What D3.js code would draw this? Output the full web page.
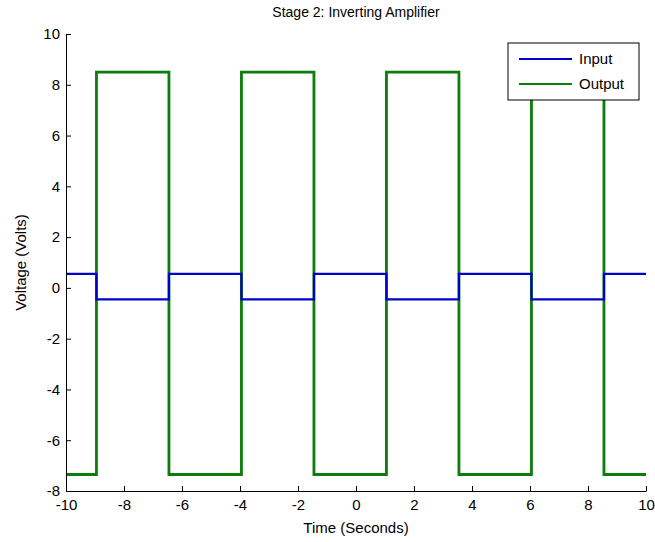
<!DOCTYPE html>
<html>
<head>
<meta charset="utf-8">
<script src="https://cdn.jsdelivr.net/npm/d3@7"></script>
<style>
  body { margin: 0; background: #fff; }
  text { font-family: "Liberation Sans", Arial, sans-serif; fill: #000; }
</style>
</head>
<body>
<svg id="viz" width="655" height="542"></svg>
<script>
// Stage 2 step plot

var svg = d3.select("#viz");
var width = +svg.attr("width");
var height = +svg.attr("height");

// switching instants (s)
var edgeTimes = [-10, -8.95, -6.45, -3.95, -1.45, 1.05, 3.55, 6.05, 8.55, 10];
var inputLevels = [0.55, -0.45, 0.55, -0.45, 0.55, -0.45, 0.55, -0.45, 0.55];
var outputLevels = [-7.35, 8.5, -7.35, 8.5, -7.35, 8.5, -7.35, 8.5, -7.35];
var xTicks = [-10, -8, -6, -4, -2, 0, 2, 4, 6, 8, 10];
var yTicks = [-8, -6, -4, -2, 0, 2, 4, 6, 8, 10];
var seriesNames = ["Input", "Output"];

var margin = { left: 66, right: 9, top: 34, bottom: 51 };

var x = d3.scaleLinear().domain([-10, 10]).range([margin.left, width - margin.right]);
var y = d3.scaleLinear().domain([-8, 10]).range([height - margin.bottom, margin.top]);

function toPoints(levels) {
    var pts = levels.map((v, i) => [edgeTimes[i], v]);
    pts.push([edgeTimes[edgeTimes.length - 1], levels[levels.length - 1]]);
    return pts;
}

var line = d3.line()
    .x(d => x(d[0]))
    .y(d => y(d[1]))
    .curve(d3.curveStepAfter);

var series = [
    { name: "Input", color: "#0000c8", pts: toPoints(inputLevels) },
    { name: "Output", color: "#0a7d0a", pts: toPoints(outputLevels) }
];

// output first so the input sits on top
svg.append("path")
    .attr("d", line(series[1].pts))
    .attr("fill", "none")
    .attr("stroke", series[1].color)
    .attr("stroke-width", 2.8);
svg.append("path")
    .attr("d", line(series[0].pts))
    .attr("fill", "none")
    .attr("stroke", series[0].color)
    .attr("stroke-width", 2.2);

// axes, ticks pointing in, plain hyphen for negatives like the original
var fmt = d => String(d);
var xAxis = d3.axisBottom(x).tickValues(xTicks).tickFormat(fmt).tickSizeInner(-5).tickSizeOuter(0).tickPadding(8);
var yAxis = d3.axisLeft(y).tickValues(yTicks).tickFormat(fmt).tickSizeInner(-5).tickSizeOuter(0).tickPadding(6);

var gx = svg.append("g")
    .attr("transform", `translate(0,${height - margin.bottom})`)
    .call(xAxis);
var gy = svg.append("g")
    .attr("transform", `translate(${margin.left},0)`)
    .call(yAxis);

[gx, gy].forEach(g => {
    g.select(".domain").attr("stroke", "#000");
    g.selectAll(".tick line").attr("stroke", "#000");
    g.selectAll(".tick text")
        .attr("font-size", 15)
        .attr("font-family", "Liberation Sans, Arial, sans-serif")
        .attr("fill", "#000");
});
gx.selectAll(".tick text").attr("dy", "0.75em");

// labels
svg.append("text")
    .attr("x", (x.range()[0] + x.range()[1]) / 2)
    .attr("y", 17)
    .attr("text-anchor", "middle")
    .attr("font-size", 14)
    .text("Stage 2: Inverting Amplifier");

svg.append("text")
    .attr("x", (x.range()[0] + x.range()[1]) / 2)
    .attr("y", 533)
    .attr("text-anchor", "middle")
    .attr("font-size", 15)
    .text("Time (Seconds)");

svg.append("text")
    .attr("transform", `translate(26,${(y.range()[0] + y.range()[1]) / 2}) rotate(-90)`)
    .attr("text-anchor", "middle")
    .attr("font-size", 15)
    .text("Voltage (Volts)");

// legend
var legend = svg.append("g").attr("transform", "translate(508,43)");
legend.append("rect")
    .attr("width", 131)
    .attr("height", 57)
    .attr("fill", "#fff")
    .attr("stroke", "#000")
    .attr("stroke-width", 1);
series.forEach((s, i) => {
    var ly = 16 + i * 25;
    legend.append("line")
        .attr("x1", 11).attr("x2", 64)
        .attr("y1", ly).attr("y2", ly)
        .attr("stroke", s.color)
        .attr("stroke-width", 2.2);
    legend.append("text")
        .attr("x", 71)
        .attr("y", ly + 5)
        .attr("font-size", 15)
        .text(seriesNames[i]);
});
</script>
</body>
</html>
